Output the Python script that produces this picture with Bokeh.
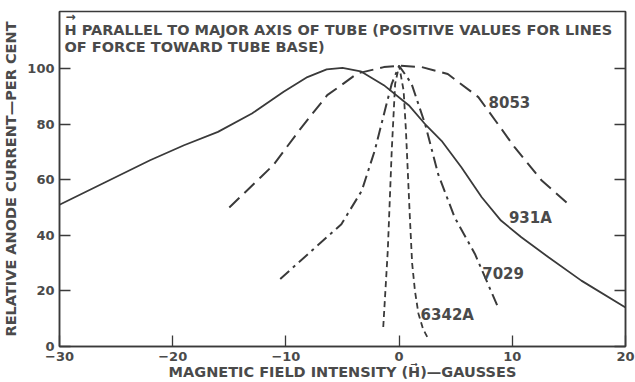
import math
from bokeh.plotting import figure
from bokeh.models import Label, LinearAxis, FixedTicker, Range1d
from bokeh.embed import file_html
from bokeh.resources import INLINE

# ---- data ----
x_931a = [-30, -26, -22, -19, -16, -13, -10.2, -8.1, -6.4, -5, -3.4, -1.35, 0.85, 2.4, 3.75, 5.5, 7.3, 9, 10.8, 13.2, 16.1, 20]
y_931a = [51, 59, 67, 72.4, 77.2, 83.8, 91.6, 96.9, 99.7, 100.2, 99, 94, 86.8, 79.5, 74, 64.5, 53.7, 45.3, 39.3, 32.1, 23.7, 14]

x_8053 = [-15, -12.2, -11.1, -8.7, -6.35, -5.1, -3.7, -1.35, 0, 2, 4.3, 7, 8.5, 10.2, 12.6, 15.1]
y_8053 = [50, 61, 65.3, 78.4, 90.4, 94, 98.2, 100.5, 101, 100.5, 98, 89.7, 81.3, 71.7, 59.7, 50.7]

x_7029 = [-10.5, -7.7, -5.1, -3.3, -2.15, -1.25, -0.65, 0, 1.1, 2.3, 3.45, 4.9, 6.7, 8.75]
y_7029 = [24.3, 34.5, 44, 56, 70.5, 85, 94.5, 101, 94.5, 80, 62, 46.5, 33.3, 14]

x_6342a = [-1.4, -1.0, -0.65, -0.35, 0, 0.4, 0.6, 0.8, 0.95, 1.15, 1.4, 1.7, 2.1, 2.6]
y_6342a = [7, 34.5, 70.5, 94.5, 101, 92, 78, 60, 46.5, 30, 20, 12, 6.5, 2.5]

x_ticks = [-30, -20, -10, 0, 10, 20]
x_tick_labels = ["\u221230", "\u221220", "\u221210", "0", "10", "20"]
y_ticks = [0, 20, 40, 60, 80, 100]
y_tick_labels = ["0", "20", "40", "60", "80", "100"]

FONT = "DejaVu Sans"
INK = "#3a3a3a"
TXT = "#4a4a4a"

p = figure(width=635, height=382, x_range=Range1d(-30, 20), y_range=Range1d(0, 120.5),
           output_backend="svg", toolbar_location=None,
           min_border_left=59, min_border_right=10, min_border_top=11, min_border_bottom=35,
           x_axis_location=None, y_axis_location=None)
p.grid.visible = False
p.outline_line_color = INK
p.outline_line_width = 1.5
p.background_fill_color = "white"
p.border_fill_color = "white"

def style_axis(ax, ticks, labels):
    ax.ticker = FixedTicker(ticks=ticks)
    ax.major_label_overrides = {t: l for t, l in zip(ticks, labels)}
    ax.minor_tick_line_color = None
    ax.major_tick_in = 11
    ax.major_tick_out = 0
    ax.major_tick_line_color = INK
    ax.major_tick_line_width = 1.3
    ax.axis_line_color = INK
    ax.axis_line_width = 1.5
    ax.major_label_text_font = FONT
    ax.major_label_text_font_style = "bold"
    ax.major_label_text_color = TXT
    ax.major_label_text_font_size = "13px"
    ax.major_label_standoff = 5
    ax.axis_label_text_font = FONT
    ax.axis_label_text_font_style = "bold"
    ax.axis_label_text_color = TXT
    ax.axis_label_text_font_size = "14.5px"

bottom = LinearAxis(axis_label="MAGNETIC FIELD INTENSITY (H\u20d7)\u2014GAUSSES")
style_axis(bottom, x_ticks, x_tick_labels)
bottom.axis_label_standoff = 0
p.add_layout(bottom, "below")

left = LinearAxis(axis_label="RELATIVE ANODE CURRENT\u2014PER CENT")
style_axis(left, y_ticks, y_tick_labels)
left.major_label_standoff = 5
left.axis_label_standoff = 5
p.add_layout(left, "left")

right = LinearAxis()
style_axis(right, y_ticks, [""] * len(y_ticks))
right.major_label_standoff = 0
p.add_layout(right, "right")

# curves
p.line(x_931a, y_931a, line_color=INK, line_width=1.8)
p.line(x_8053, y_8053, line_color=INK, line_width=2.0, line_dash="14 7")
p.line(x_7029, y_7029, line_color=INK, line_width=2.0, line_dash="12 5 3 5")
p.line(x_6342a, y_6342a, line_color=INK, line_width=1.8, line_dash="6 4")

def lab(x, y, text, size="15px", align="left", angle=0.0):
    p.add_layout(Label(x=x, y=y, text=text, text_font=FONT, text_font_size=size,
                       text_font_style="bold",
                       text_color=TXT, text_align=align, text_baseline="middle",
                       angle=angle))

# curve labels
lab(7.9, 88, "8053")
lab(9.7, 46.1, "931A")
lab(7.34, 26.4, "7029")
lab(1.9, 11.4, "6342A")

# in-plot title
lab(-29.56, 113.9, "H PARALLEL TO MAJOR AXIS OF TUBE (POSITIVE VALUES FOR LINES", size="14.5px")
lab(-29.56, 107.7, "OF FORCE TOWARD TUBE BASE)", size="14.5px")
lab(-29.03, 118.5, "\u2192", size="12px", align="center")

open("out.html", "w").write(file_html(p, INLINE))
